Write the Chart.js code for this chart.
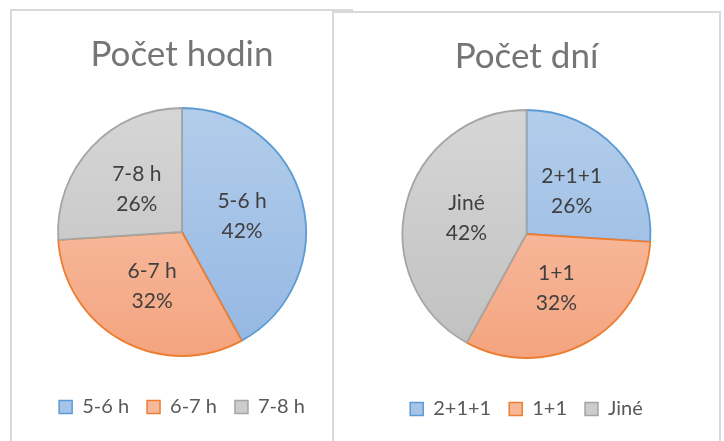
<!DOCTYPE html>
<html>
<head>
<meta charset="utf-8">
<script src="https://cdn.jsdelivr.net/npm/chart.js@4"></script>
<style>
  html, body { margin: 0; padding: 0; background: #fff; }
  body { width: 724px; height: 441px; position: relative; overflow: hidden; }
  .panel { position: absolute; background: #fff; border: 2px solid #d9d9d9; box-sizing: border-box; }
  #p1 { left: 10px; top: 9px; width: 343px; height: 450px; }
  #p2 { left: 332px; top: 11px; width: 389px; height: 450px; }
  canvas { position: absolute; }
</style>
</head>
<body>
<div class="panel" id="p1"></div>
<div class="panel" id="p2"></div>
<canvas id="c1" width="320" height="430" style="left:12px;top:11px;width:320px;height:430px"></canvas>
<canvas id="c2" width="385" height="430" style="left:334px;top:13px;width:385px;height:430px"></canvas>
<script>
// data
const hoursTitle = "Počet hodin";
const hoursLabels = ["5-6 h", "6-7 h", "7-8 h"];
const hoursValues = [42, 32, 26];

const daysTitle = "Počet dní";
const daysLabels = ["2+1+1", "1+1", "Jiné"];
const daysValues = [26, 32, 42];

const FONT = "Lato, 'Open Sans', sans-serif";
const borders = ["#5b9bd5", "#ed7d31", "#a5a5a5"];
const gradTop = ["#b3cdeb", "#f8c9b1", "#d6d6d6"];
const gradBot = ["#93b7e2", "#f4a47f", "#c0c0c0"];
const flat = ["#a6c4e8", "#f6b898", "#cccccc"];

// labels in the middle of each slice
const sliceLabels = {
  id: "sliceLabels",
  afterDatasetsDraw(chart) {
    const ctx = chart.ctx;
    const ds = chart.data.datasets[0];
    const total = ds.data.reduce((a, b) => a + b, 0);
    chart.getDatasetMeta(0).data.forEach((arc, i) => {
      const p = arc.tooltipPosition();
      ctx.save();
      ctx.fillStyle = "#404040";
      ctx.font = "21px " + FONT;
      ctx.textAlign = "center";
      ctx.textBaseline = "middle";
      ctx.fillText(chart.data.labels[i], p.x, p.y - 15);
      ctx.fillText(Math.round(ds.data[i] / total * 100) + "%", p.x, p.y + 15);
      ctx.restore();
    });
  }
};

function fillFor(c) {
  const i = c.dataIndex;
  const area = c.chart.chartArea;
  if (!area || i === undefined) return flat[i] || flat[0];
  const cy = (area.top + area.bottom) / 2;
  const g = c.chart.ctx.createLinearGradient(0, cy - 124, 0, cy + 124);
  g.addColorStop(0, gradTop[i]);
  g.addColorStop(1, gradBot[i]);
  return g;
}

function makePie(id, title, labels, values, pad) {
  return new Chart(document.getElementById(id), {
    type: "pie",
    data: {
      labels: labels,
      datasets: [{
        data: values,
        backgroundColor: fillFor,
        borderColor: borders,
        borderWidth: 1.8,
        radius: 124
      }]
    },
    options: {
      responsive: false,
      animation: false,
      layout: { padding: pad },
      plugins: {
        title: {
          display: true, text: title, color: "#757575",
          font: { family: FONT, size: 35, weight: "normal" },
          padding: { top: 23, bottom: 9 }
        },
        legend: {
          position: "bottom",
          labels: {
            color: "#595959", boxWidth: 13, boxHeight: 13, padding: 18,
            font: { family: FONT, size: 20 },
            generateLabels(chart) {
              return chart.data.labels.map((l, i) => ({
                text: l, fillStyle: flat[i], strokeStyle: borders[i],
                lineWidth: 1.5, index: i, fontColor: "#595959"
              }));
            }
          }
        },
        tooltip: { enabled: false }
      }
    },
    plugins: [sliceLabels]
  });
}

makePie("c1", hoursTitle, hoursLabels, hoursValues, { left: 20, top: 0, bottom: 14 });
makePie("c2", daysTitle, daysLabels, daysValues, { left: 0, top: 0, bottom: 14 });
</script>
</body>
</html>
